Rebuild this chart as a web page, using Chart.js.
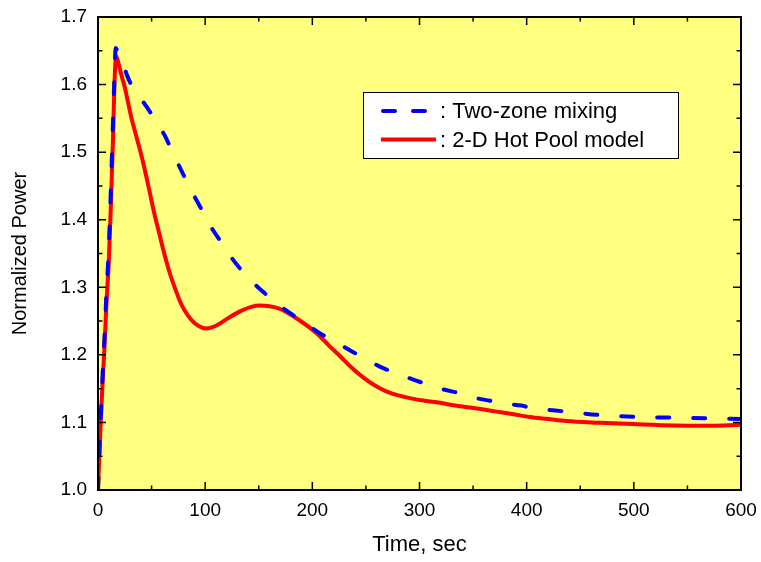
<!DOCTYPE html>
<html>
<head>
<meta charset="utf-8">
<script src="https://cdn.jsdelivr.net/npm/chart.js@4.4.1/dist/chart.umd.min.js"></script>
<style>
    html, body { margin: 0; padding: 0; background: #fff; }
    #wrap { width: 761px; height: 562px; }
</style>
</head>
<body>
<div id="wrap"><canvas id="powerChart" width="761" height="562"></canvas></div>
<script>
// ------------------- Data -------------------
const timeMixing = [0, 2, 4, 6, 8, 10, 12, 14, 15.5, 16.5, 19, 21, 23.6, 26.8, 31, 36, 45, 54.7, 62.5, 70, 76.5, 84, 90.5,
    100, 106, 117, 125, 139, 150, 167, 179, 195, 207, 223, 237, 252, 265, 282, 293, 310, 322, 338,
    350, 366, 378, 395, 403, 437, 468, 506, 543, 574, 600];
const powerMixing = [1.0, 1.085, 1.16, 1.225, 1.295, 1.355, 1.445, 1.545, 1.62, 1.654, 1.645, 1.638, 1.630, 1.615, 1.600, 1.588, 1.568, 1.544, 1.524, 1.498, 1.477, 1.453, 1.433,
    1.406, 1.388, 1.362, 1.343, 1.316, 1.299, 1.276, 1.262, 1.245, 1.232, 1.218, 1.205, 1.192, 1.181, 1.171, 1.164, 1.155, 1.149, 1.143,
    1.137, 1.132, 1.128, 1.125, 1.122, 1.116, 1.111, 1.108, 1.107, 1.106, 1.105];

const timeHotPool = [0, 2, 4, 6, 8, 10, 12, 14, 15, 16, 17, 18, 20, 22, 25, 28, 31, 36, 41, 47, 52, 56, 61, 66, 72,
    78, 84, 90, 96, 101, 110, 121, 132, 143, 151, 160, 168, 176, 190, 204, 216, 226, 236, 248, 258, 269,
    280, 291, 305, 319, 333, 347, 360, 372, 388, 403, 420, 437, 468, 500, 537, 568, 600];
const powerHotPool = [1.0, 1.08, 1.15, 1.21, 1.28, 1.335, 1.42, 1.52, 1.58, 1.625, 1.642, 1.638, 1.626, 1.613, 1.596, 1.574, 1.552, 1.522, 1.492, 1.45, 1.413, 1.387, 1.355, 1.326, 1.298,
    1.274, 1.258, 1.247, 1.241, 1.239, 1.243, 1.254, 1.264, 1.271, 1.273, 1.272, 1.269, 1.263, 1.249, 1.232, 1.213, 1.198, 1.182, 1.166, 1.155, 1.146,
    1.140, 1.136, 1.132, 1.129, 1.125, 1.122, 1.119, 1.116, 1.112, 1.108, 1.105, 1.102, 1.0995, 1.0975, 1.0955, 1.095, 1.0965];

const xTicks = [0, 100, 200, 300, 400, 500, 600];
const yTicks = [1.0, 1.1, 1.2, 1.3, 1.4, 1.5, 1.6, 1.7];

const seriesLabels = [": Two-zone mixing", ": 2-D Hot Pool model"];

// ------------------- Helpers -------------------
function toPoints(xs, ys) {
    return xs.map((x, i) => ({ x: x, y: ys[i] }));
}

const FONT = "Arial, 'Liberation Sans', sans-serif";

// background + frame + inward ticks
const framePlugin = {
    id: "frame",
    beforeDatasetsDraw(chart) {
        const { ctx, chartArea: a } = chart;
        ctx.save();
        ctx.fillStyle = "rgb(255,255,128)";
        ctx.fillRect(a.left, a.top, a.right - a.left, a.bottom - a.top);
        ctx.restore();
    },
    afterDatasetsDraw(chart) {
        const { ctx, chartArea: a, scales } = chart;
        ctx.save();
        ctx.strokeStyle = "#000";
        ctx.lineWidth = 1.5;

        const xs = scales.x, ys = scales.y;
        const drawX = (v, len) => {
            const px = xs.getPixelForValue(v);
            ctx.beginPath();
            ctx.moveTo(px, a.bottom); ctx.lineTo(px, a.bottom - len);
            ctx.moveTo(px, a.top); ctx.lineTo(px, a.top + len);
            ctx.stroke();
        };
        const drawY = (v, len) => {
            const py = ys.getPixelForValue(v);
            ctx.beginPath();
            ctx.moveTo(a.left, py); ctx.lineTo(a.left + len, py);
            ctx.moveTo(a.right, py); ctx.lineTo(a.right - len, py);
            ctx.stroke();
        };
        xTicks.forEach((v, i) => {
            drawX(v, 8);
            if (i < xTicks.length - 1) drawX((v + xTicks[i + 1]) / 2, 4.5);
        });
        yTicks.forEach((v, i) => {
            drawY(v, 8);
            if (i < yTicks.length - 1) drawY((v + yTicks[i + 1]) / 2, 4.5);
        });

        ctx.lineWidth = 2;
        ctx.strokeRect(a.left, a.top, a.right - a.left, a.bottom - a.top);
        ctx.restore();
    }
};

// legend box inside the plot
const legendPlugin = {
    id: "boxLegend",
    afterDraw(chart) {
        const ctx = chart.ctx;
        const box = { x: 363, y: 92, w: 315, h: 66 };
        ctx.save();
        ctx.fillStyle = "#fff";
        ctx.fillRect(box.x, box.y, box.w, box.h);
        ctx.strokeStyle = "#000";
        ctx.lineWidth = 1;
        ctx.strokeRect(box.x + 0.5, box.y + 0.5, box.w, box.h);

        chart.data.datasets.forEach((ds, i) => {
            const cy = box.y + 19 + i * 28.5;
            ctx.beginPath();
            ctx.strokeStyle = ds.borderColor;
            ctx.lineWidth = ds.borderWidth;
            ctx.lineCap = ds.borderDash.length ? "round" : "butt";
            ctx.setLineDash(ds.borderDash.length ? [12, 18] : []);
            ctx.moveTo(i === 0 ? 383 : 381, cy);
            ctx.lineTo(i === 0 ? 426 : 436, cy);
            ctx.stroke();
            ctx.setLineDash([]);

            ctx.fillStyle = "#000";
            ctx.font = "22px " + FONT;
            ctx.textBaseline = "middle";
            ctx.textAlign = "left";
            ctx.fillText(ds.label, 440, cy + 1);
        });
        ctx.restore();
    }
};

// ------------------- Chart -------------------
const powerChart = new Chart(document.getElementById("powerChart"), {
    type: "line",
    data: {
        datasets: [
            {
                label: seriesLabels[0],
                data: toPoints(timeMixing, powerMixing),
                borderColor: "#0000ff",
                borderWidth: 4,
                borderDash: [12, 24],
                borderCapStyle: "round",
                pointRadius: 0,
                cubicInterpolationMode: "monotone",
                fill: false
            },
            {
                label: seriesLabels[1],
                data: toPoints(timeHotPool, powerHotPool),
                borderColor: "#ff0000",
                borderWidth: 4,
                borderDash: [],
                pointRadius: 0,
                cubicInterpolationMode: "monotone",
                fill: false
            }
        ]
    },
    options: {
        responsive: false,
        animation: false,
        layout: { padding: { left: 0, right: 20, top: 17, bottom: 0 } },
        plugins: {
            legend: { display: false },
            tooltip: { enabled: false }
        },
        scales: {
            x: {
                type: "linear",
                min: 0,
                max: 600,
                afterFit: s => { s.height = 72; s.paddingLeft = 0; s.paddingRight = 0; },
                afterBuildTicks: s => { s.ticks = xTicks.map(v => ({ value: v })); },
                grid: { display: false, drawTicks: false },
                border: { display: false },
                ticks: {
                    color: "#000",
                    padding: 9,
                    maxRotation: 0,
                    font: { family: FONT, size: 19 }
                },
                title: {
                    display: true,
                    text: "Time, sec",
                    color: "#000",
                    padding: { top: 0, bottom: 4 },
                    font: { family: FONT, size: 22 }
                }
            },
            y: {
                type: "linear",
                min: 1.0,
                max: 1.7,
                afterFit: s => { s.width = 98; s.paddingTop = 0; s.paddingBottom = 0; },
                afterBuildTicks: s => { s.ticks = yTicks.map(v => ({ value: v })); },
                grid: { display: false, drawTicks: false },
                border: { display: false },
                ticks: {
                    color: "#000",
                    padding: 11,
                    callback: v => v.toFixed(1),
                    font: { family: FONT, size: 19 }
                },
                title: {
                    display: true,
                    text: "Normalized Power",
                    color: "#000",
                    padding: { top: 8, bottom: 0 },
                    font: { family: FONT, size: 20 }
                }
            }
        }
    },
    plugins: [framePlugin, legendPlugin]
});
</script>
</body>
</html>
